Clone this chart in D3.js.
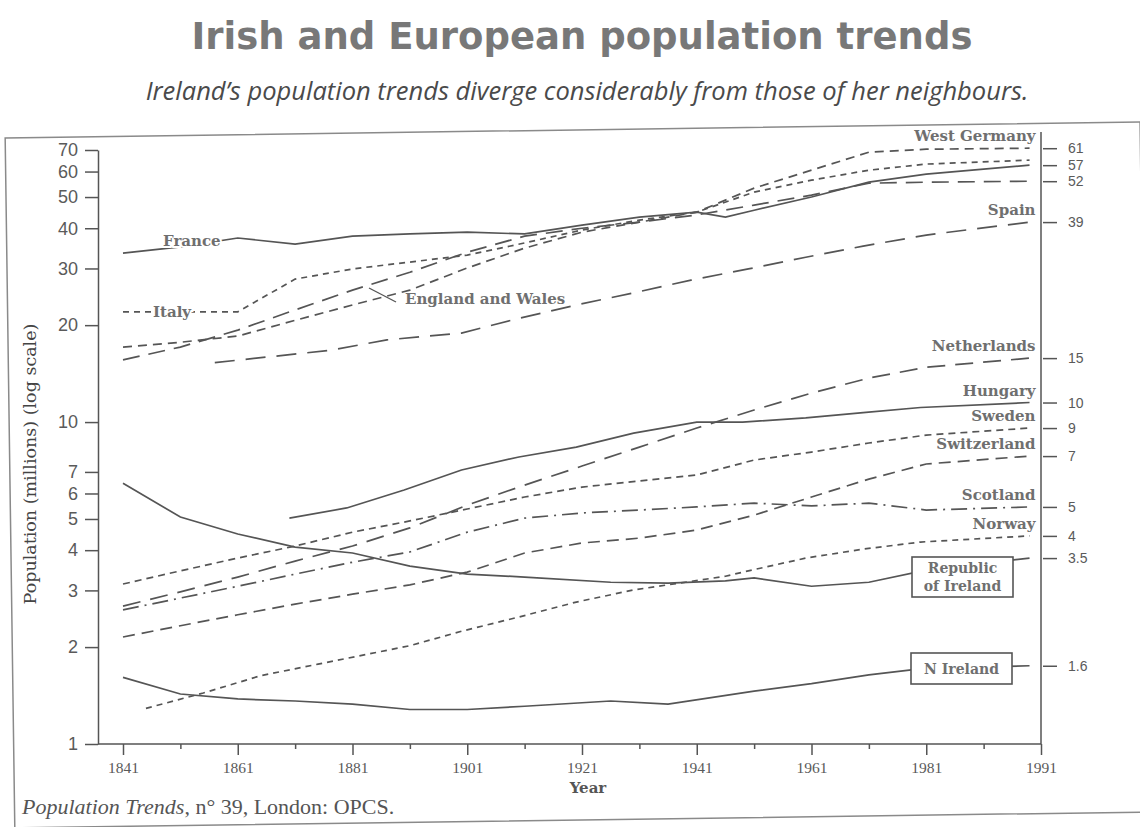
<!DOCTYPE html>
<html>
<head>
<meta charset="utf-8">
<script src="https://cdn.jsdelivr.net/npm/d3@7"></script>
<style>
  body { margin: 0; background: #fff; }
  svg { display: block; }
</style>
</head>
<body>
<svg id="chart" width="1140" height="827"></svg>
<script>
// index.html - Irish and European population trends (log scale)

// ---- data (millions) ----
const tickYears = [1841, 1861, 1881, 1901, 1921, 1941, 1961, 1981, 1991];
const minorYears = [1851, 1871, 1891, 1911, 1931, 1951, 1971, 1986];
const yTicks = [1, 2, 3, 4, 5, 6, 7, 10, 20, 30, 40, 50, 60, 70];

const decades = [1841, 1851, 1861, 1871, 1881, 1891, 1901, 1911, 1921, 1931, 1941, 1951, 1961, 1971, 1981, 1990];

const franceYears = [1841, 1851, 1861, 1871, 1881, 1891, 1901, 1911, 1921, 1931, 1941, 1946, 1951, 1961, 1971, 1981, 1990];
const france = [33.5, 35.0, 37.3, 35.7, 37.8, 38.4, 38.9, 38.4, 40.9, 43.3, 44.9, 43.3, 45.5, 50.0, 55.6, 58.9, 62.8];

const westGermany = [17.1, 17.7, 18.5, 20.7, 23.1, 25.7, 30.1, 34.7, 38.9, 41.8, 44.9, 53.3, 60.6, 68.9, 70.4, 70.9];
const englandWales = [15.6, 17.1, 19.3, 22.3, 25.7, 29.2, 33.7, 37.8, 40.0, 41.8, 44.0, 47.2, 50.7, 55.2, 55.6, 56.0];
const italy = [22.0, 22.0, 22.0, 27.8, 29.9, 31.4, 33.0, 36.0, 39.5, 42.4, 44.9, 51.8, 56.4, 60.6, 63.3, 65.1];

const spainYears = [1857, 1877, 1887, 1900, 1910, 1920, 1930, 1940, 1950, 1960, 1970, 1981, 1990];
const spain = [15.3, 16.7, 18.0, 18.9, 21.0, 23.1, 25.2, 27.6, 29.9, 32.5, 35.2, 38.1, 41.8];

const netherlands = [2.68, 2.97, 3.30, 3.70, 4.12, 4.69, 5.52, 6.37, 7.30, 8.36, 9.58, 10.9, 12.3, 13.7, 14.8, 15.8];

const hungaryYears = [1870, 1880, 1890, 1900, 1910, 1920, 1930, 1941, 1949, 1960, 1970, 1980, 1990];
const hungary = [5.03, 5.41, 6.15, 7.10, 7.79, 8.36, 9.24, 10.0, 10.0, 10.3, 10.7, 11.1, 11.5];

const sweden = [3.14, 3.45, 3.78, 4.12, 4.55, 4.93, 5.37, 5.85, 6.28, 6.56, 6.85, 7.62, 8.07, 8.61, 9.11, 9.58];
const switzerland = [2.15, 2.33, 2.52, 2.72, 2.92, 3.12, 3.42, 3.92, 4.21, 4.36, 4.62, 5.14, 5.85, 6.65, 7.41, 7.84];
const scotland = [2.61, 2.84, 3.09, 3.37, 3.67, 3.95, 4.55, 5.03, 5.22, 5.33, 5.45, 5.60, 5.49, 5.60, 5.33, 5.45];

const norwayYears = [1845, 1855, 1865, 1875, 1891, 1900, 1910, 1920, 1930, 1946, 1950, 1960, 1970, 1980, 1990];
const norway = [1.29, 1.44, 1.63, 1.77, 2.02, 2.24, 2.48, 2.76, 3.01, 3.32, 3.45, 3.78, 4.03, 4.24, 4.43];

const roiYears = [1841, 1851, 1861, 1871, 1881, 1891, 1901, 1911, 1926, 1936, 1946, 1951, 1961, 1971, 1981, 1990];
const roi = [6.46, 5.07, 4.49, 4.09, 3.92, 3.57, 3.37, 3.30, 3.18, 3.16, 3.21, 3.28, 3.09, 3.18, 3.47, 3.78];

const niYears = [1841, 1851, 1861, 1871, 1881, 1891, 1901, 1911, 1926, 1936, 1951, 1961, 1971, 1981, 1990];
const nIreland = [1.61, 1.43, 1.38, 1.36, 1.33, 1.28, 1.28, 1.31, 1.36, 1.33, 1.46, 1.54, 1.64, 1.72, 1.75];

// right hand end labels (as printed) and the series they sit on
const endLabels = ["61", "57", "52", "39", "15", "10", "9", "7", "5", "4", "3.5", "1.6"];
const endSeries = ["West Germany", "France", "England and Wales", "Spain", "Netherlands", "Hungary",
                   "Sweden", "Switzerland", "Scotland", "Norway", "Republic of Ireland", "N Ireland"];
// names written at the line ends
const endNames = ["West Germany", "Spain", "Netherlands", "Hungary", "Sweden", "Switzerland", "Scotland", "Norway"];

// ---- series table ----
const series = [
    { name: "France", years: franceYears, values: france },
    { name: "West Germany", years: decades, values: westGermany },
    { name: "England and Wales", years: decades, values: englandWales },
    { name: "Italy", years: decades, values: italy },
    { name: "Spain", years: spainYears, values: spain },
    { name: "Netherlands", years: decades, values: netherlands },
    { name: "Hungary", years: hungaryYears, values: hungary },
    { name: "Sweden", years: decades, values: sweden },
    { name: "Switzerland", years: decades, values: switzerland },
    { name: "Scotland", years: decades, values: scotland },
    { name: "Norway", years: norwayYears, values: norway },
    { name: "Republic of Ireland", years: roiYears, values: roi },
    { name: "N Ireland", years: niYears, values: nIreland }
];
const byName = new Map(series.map(s => [s.name, s]));
const last = s => s.values[s.values.length - 1];
const lastYear = s => s.years[s.years.length - 1];

const dashes = {
    "France": null, "Hungary": null, "Republic of Ireland": null, "N Ireland": null,
    "West Germany": "9,6",
    "England and Wales": "17,9",
    "Italy": "6,5",
    "Spain": "20,11",
    "Netherlands": "18,10",
    "Sweden": "7,5",
    "Switzerland": "12,7",
    "Scotland": "16,6,2,6",
    "Norway": "6,5"
};

// ---- layout ----
const plotL = 98, plotR = 1041, plotT = 150, plotB = 744;
const x0 = plotL + 25;
const step = (plotR - x0) / 8;
const ink = "#555";
const serif = "'DejaVu Serif', serif";
const sans = "'Open Sans', sans-serif";
const tickFont = "'Liberation Sans', sans-serif";

const svg = d3.select("#chart");
svg.append("rect").attr("width", 1140).attr("height", 827).attr("fill", "#fff");

// slightly tilted frame like the scanned page
svg.append("rect")
    .attr("x", 10).attr("y", 130).attr("width", 1135).attr("height", 690)
    .attr("fill", "none").attr("stroke", "#8a8a8a").attr("stroke-width", 1.5)
    .attr("transform", "rotate(-0.8 575 480)");

// Titles
svg.append("text").attr("x", 582).attr("y", 49).attr("text-anchor", "middle")
    .style("font-family", "'DejaVu Sans', sans-serif").style("font-weight", "bold")
    .style("font-size", "37px").attr("fill", "#787878")
    .text("Irish and European population trends");
svg.append("text").attr("x", 587).attr("y", 100).attr("text-anchor", "middle")
    .style("font-family", sans).style("font-style", "italic")
    .style("font-size", "25.5px").attr("fill", "#4a4a4a")
    .text("Ireland\u2019s population trends diverge considerably from those of her neighbours.");

// Scales
const x = d3.scaleLinear().domain([1841, 1981, 1991]).range([x0, x0 + 7 * step, plotR]);
const y = d3.scaleLog().domain([1, 70]).range([plotB, plotT]);

// Axes
const gL = svg.append("g").attr("transform", `translate(${plotL},0)`)
    .call(d3.axisLeft(y).tickValues(yTicks).tickFormat(d3.format("d"))
        .tickSize(13).tickSizeOuter(0).tickPadding(7));
gL.selectAll("text").style("font-family", tickFont).style("font-size", "18px").attr("fill", "#5a5a5a");

svg.append("line").attr("x1", plotL).attr("x2", plotR).attr("y1", plotB).attr("y2", plotB);

const gB = svg.append("g").attr("transform", `translate(0,${plotB})`)
    .call(d3.axisBottom(x).tickValues(tickYears).tickFormat(d3.format("d"))
        .tickSize(11).tickPadding(7));
gB.select(".domain").remove();
gB.selectAll("text").style("font-family", "'Liberation Serif', serif").style("font-size", "15.5px").attr("fill", "#5a5a5a");

const gM = svg.append("g").attr("transform", `translate(0,${plotB})`)
    .call(d3.axisBottom(x).tickValues(minorYears).tickFormat("").tickSize(5));
gM.select(".domain").remove();

svg.append("line").attr("x1", plotR).attr("x2", plotR).attr("y1", 132).attr("y2", plotB);

const endVals = endSeries.map(n => last(byName.get(n)));
const gR = svg.append("g").attr("transform", `translate(${plotR + 2},0)`)
    .call(d3.axisRight(y).tickValues(endVals).tickFormat((d, i) => endLabels[i])
        .tickSize(14).tickPadding(11));
gR.select(".domain").remove();
gR.selectAll("text").style("font-family", tickFont).style("font-size", "14px").attr("fill", "#5a5a5a");

svg.selectAll("line, .tick line, .domain").attr("stroke", ink).attr("stroke-width", 1.5);

// Axis labels
svg.append("text").attr("transform", "rotate(-90)")
    .attr("x", -464).attr("y", 36).attr("text-anchor", "middle")
    .style("font-family", serif).style("font-size", "17.5px").attr("fill", "#444")
    .text("Population (millions) (log scale)");
svg.append("text").attr("x", 588).attr("y", 793).attr("text-anchor", "middle")
    .style("font-family", serif).style("font-weight", "bold").style("font-size", "15px").attr("fill", "#555")
    .text("Year");

// Lines
const line = d3.line().x(d => x(d[0])).y(d => y(d[1]));
svg.append("g").selectAll("path")
    .data(series).enter().append("path")
    .attr("fill", "none").attr("stroke", ink).attr("stroke-width", 1.7)
    .attr("stroke-dasharray", d => dashes[d.name])
    .attr("d", d => line(d3.zip(d.years, d.values)));

// Labels at line ends
const lab = svg.append("g")
    .style("font-family", serif).style("font-weight", "bold").style("font-size", "15px")
    .attr("fill", "#6f6f6f");
endNames.forEach(n => {
    const s = byName.get(n);
    lab.append("text").attr("x", x(lastYear(s)) + 6).attr("y", y(last(s)) - 7)
        .attr("text-anchor", "end").text(n);
});

// Labels sitting on lines
lab.append("text").attr("x", 163).attr("y", 246).text("France")
    .attr("stroke", "#fff").attr("stroke-width", 4).attr("paint-order", "stroke");
lab.append("text").attr("x", 153).attr("y", 317).text("Italy")
    .attr("stroke", "#fff").attr("stroke-width", 4).attr("paint-order", "stroke");
lab.append("text").attr("x", 405).attr("y", 304).text("England and Wales");
svg.append("line").attr("x1", 369).attr("y1", 288).attr("x2", 396).attr("y2", 302)
    .attr("stroke", ink).attr("stroke-width", 1.3);

// Boxed labels
function boxLabel(bx, by, bw, bh, lines) {
    svg.append("rect").attr("x", bx).attr("y", by).attr("width", bw).attr("height", bh)
        .attr("fill", "#fff").attr("stroke", ink).attr("stroke-width", 1.6);
    lines.forEach((t, i) => {
        lab.append("text").attr("x", bx + bw / 2).attr("y", by + (lines.length === 1 ? 21 : 16 + i * 18))
            .attr("text-anchor", "middle").style("font-size", "14px").text(t);
    });
}
boxLabel(912, 557, 101, 40, ["Republic", "of Ireland"]);
boxLabel(911, 653, 101, 31, ["N Ireland"]);
lab.raise();

// Source
const src = svg.append("text").attr("x", 22).attr("y", 814)
    .style("font-family", "'Liberation Serif', serif").style("font-size", "22px").attr("fill", "#555");
src.append("tspan").style("font-style", "italic").text("Population Trends");
src.append("tspan").text(", n\u00b0 39, London: OPCS.");
</script>
</body>
</html>
